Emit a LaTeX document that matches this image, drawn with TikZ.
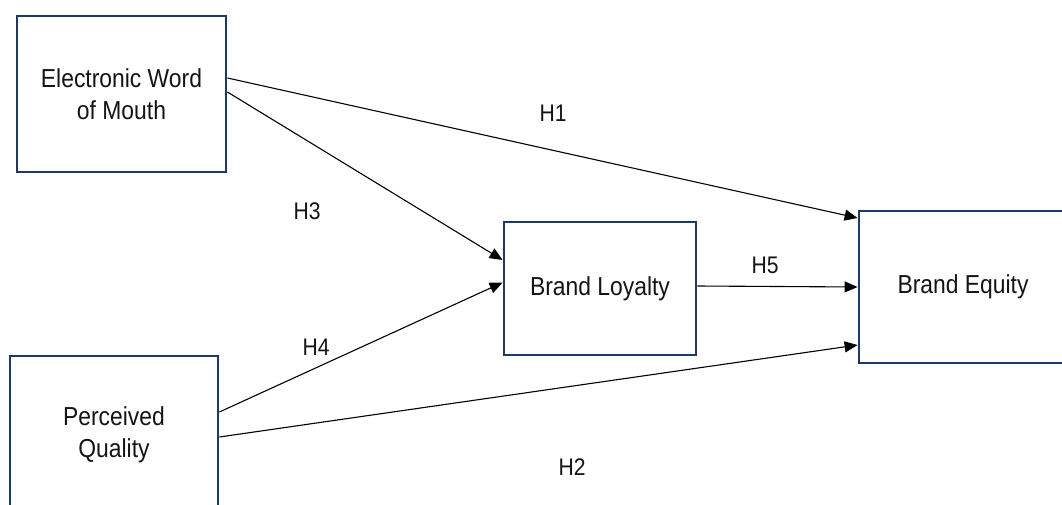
\documentclass[tikz,border=0pt]{standalone}
\usepackage{fontspec}
\setmainfont{Liberation Sans}
\newfontfamily\labfont[FakeStretch=0.88]{Liberation Sans}
\usetikzlibrary{arrows.meta}
\definecolor{boxnavy}{HTML}{1F3864}
\definecolor{txtgray}{HTML}{141414}
\tikzset{
  construct/.style={draw=boxnavy, line width=2.8pt, fill=white, inner sep=0pt,
    align=center, text=txtgray, font=\labfont\fontsize{26}{32}\selectfont},
  path/.style={draw=black, line width=1.1pt, -{Triangle[length=13pt,width=11pt]}},
  hyp/.style={text=txtgray, font=\labfont\fontsize{24}{28}\selectfont}
}
\begin{document}
\begin{tikzpicture}[x=1pt, y=-1pt]
  \useasboundingbox (0,0) rectangle (1062,505);
  \clip (0,0) rectangle (1062,505);
  \fill[white] (0,0) rectangle (1062,505);

  % constructs
  \node[construct, minimum width=209pt, minimum height=156pt] (ewom) at (121.5,94) {Electronic Word\\of Mouth};
  \node[construct, minimum width=208pt, minimum height=158pt] (pq) at (114,435) {Perceived\\Quality};
  \node[construct, minimum width=192pt, minimum height=133pt] (bl) at (600,288.5) {Brand Loyalty};
  \node[construct, minimum width=208pt, minimum height=152pt] (be) at (963,287) {Brand Equity};

  % hypothesised paths
  \draw[path] ([yshift=16pt]ewom.east) -- ([yshift=69pt]be.west);
  \draw[path] ([yshift=2pt]ewom.east) -- ([yshift=28.5pt]bl.west);
  \draw[path] ([yshift=23pt]pq.east) -- ([yshift=6pt]bl.west);
  \draw[path] ([yshift=2.5pt]bl.east) -- (be.west);
  \draw[path] ([yshift=-2pt]pq.east) -- ([yshift=-58pt]be.west);

  % hypothesis labels
  \node[hyp] (h1) at (553,113) {H1};
  \node[hyp] (h3) at (307,211) {H3};
  \node[hyp] (h4) at (316,347) {H4};
  \node[hyp] (h5) at (765,265) {H5};
  \node[hyp] (h2) at (572,467) {H2};
\end{tikzpicture}
\end{document}
